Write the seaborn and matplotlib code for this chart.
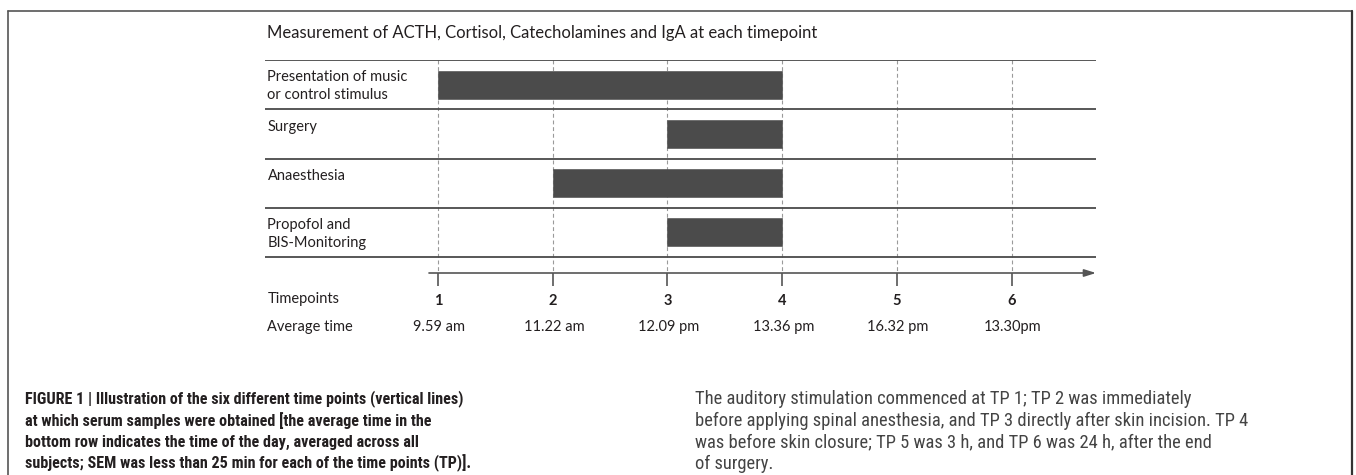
import matplotlib
matplotlib.use("Agg")
import matplotlib.pyplot as plt
from matplotlib.lines import Line2D
from matplotlib.transforms import blended_transform_factory
import seaborn as sns

# --- Data ---
TITLE = "Measurement of ACTH, Cortisol, Catecholamines and IgA at each timepoint"
ROW_LABELS = ["Presentation of music\nor control stimulus", "Surgery",
              "Anaesthesia", "Propofol and\nBIS-Monitoring"]
BAR_START = [1, 3, 2, 3]
BAR_END = [4, 4, 4, 4]
TIMEPOINTS = [1, 2, 3, 4, 5, 6]
AVG_TIMES = ["9.59 am", "11.22 am", "12.09 pm", "13.36 pm", "16.32 pm", "13.30pm"]

CAPTION_LEFT = [
    "FIGURE 1 | Illustration of the six different time points (vertical lines)",
    "at which serum samples were obtained [the average time in the",
    "bottom row indicates the time of the day, averaged across all",
    "subjects; SEM was less than 25 min for each of the time points (TP)].",
]
CAPTION_RIGHT = [
    "The auditory stimulation commenced at TP 1; TP 2 was immediately",
    "before applying spinal anesthesia, and TP 3 directly after skin incision. TP 4",
    "was before skin closure; TP 5 was 3 h, and TP 6 was 24 h, after the end",
    "of surgery.",
]

# --- Style ---
sns.set_theme(style="white")
plt.rcParams["font.family"] = ["Lato", "DejaVu Sans"]
CAP_FONT = ["Roboto Condensed", "Roboto", "DejaVu Sans"]

W, H = 1356, 475
fig = plt.figure(figsize=(W / 100, H / 100), dpi=100)

def fx(px):
    return px / W

def fy(py):
    return 1 - py / H

# frame round the figure (open at the bottom)
frame_col = "#555555"
fig.add_artist(Line2D([fx(8), fx(1352)], [fy(11), fy(11)], color=frame_col, lw=1.2))
fig.add_artist(Line2D([fx(8), fx(8)], [fy(11), 0], color=frame_col, lw=1.2))
fig.add_artist(Line2D([fx(1352), fx(1352)], [fy(11), 0], color="#333333", lw=1.6))

# chart area
left_px, right_px, top_px, bottom_px = 265, 1096, 60, 273
tp1_px, step_px = 438, 114.7
row_px = 49.25
ax = fig.add_axes([fx(left_px), fy(bottom_px),
                   (right_px - left_px) / W, (bottom_px - top_px) / H])
xmin = TIMEPOINTS[0] - (tp1_px - left_px) / step_px
xmax = TIMEPOINTS[0] + (right_px - tp1_px) / step_px
ybot = (bottom_px - top_px) / row_px
ax.set_xlim(xmin, xmax)
ax.set_ylim(ybot, 0)
sns.despine(ax=ax, left=True, bottom=True)
ax.set_yticks([])

n_rows = len(ROW_LABELS)
txt_col = "#231f20"

# dashed timepoint lines
ax.vlines(TIMEPOINTS, 0, ybot, colors="#9a9a9a", linestyles=(0, (3.5, 2.5)), lw=0.8, zorder=1)

# row separators
ax.hlines(range(n_rows + 1), xmin, xmax, colors="#4a4a4a", lw=1.3, zorder=2)

# bars
rows = [i + 0.5 for i in range(n_rows)]
widths = [e - s for s, e in zip(BAR_START, BAR_END)]
ax.barh(rows, widths, left=BAR_START, height=0.57, color="#4b4b4b",
        edgecolor="#5a5a5a", lw=0.5, zorder=3)

# row labels
lab_tr = blended_transform_factory(ax.transAxes, ax.transData)
for i, lab in enumerate(ROW_LABELS):
    ax.text(0.003, i + 0.21, lab, transform=lab_tr, ha="left", va="top",
            fontsize=10.5, color=txt_col, linespacing=1.35)

# time axis with arrow
ax.annotate("", xy=(xmax, ybot), xytext=(TIMEPOINTS[0] - 9 / step_px, ybot),
            xycoords="data", annotation_clip=False,
            arrowprops=dict(arrowstyle="-|>,head_length=0.7,head_width=0.22",
                            color="#555555", lw=1.2, shrinkA=0, shrinkB=0,
                            mutation_scale=10))
ax.set_xticks(TIMEPOINTS)
ax.set_xticklabels([str(t) for t in TIMEPOINTS], fontweight="bold", fontsize=10.5,
                   color=txt_col)
ax.tick_params(axis="x", direction="out", length=9.4, width=1.2, color="#555555",
               pad=5.8, bottom=True)

ax.text(0.003, (299 - top_px) / row_px, "Timepoints", transform=lab_tr,
        ha="left", va="center", fontsize=10.5, color=txt_col)
ax.text(0.003, (327 - top_px) / row_px, "Average time", transform=lab_tr,
        ha="left", va="center", fontsize=10.5, color=txt_col)
for tp, t in zip(TIMEPOINTS, AVG_TIMES):
    ax.text(tp + 0.01, (327 - top_px) / row_px, t, ha="center", va="center",
            fontsize=10.5, color=txt_col, clip_on=False)

fig.text(fx(267), fy(33), TITLE, ha="left", va="center", fontsize=12, color=txt_col)

# caption
line_y = [399, 420.5, 442, 463.5]
for y, line in zip(line_y, CAPTION_LEFT):
    fig.text(fx(25), fy(y), line, ha="left", va="center", fontsize=11.6,
             fontweight="bold", color="#231f20", family=CAP_FONT)
for y, line in zip(line_y, CAPTION_RIGHT):
    fig.text(fx(695), fy(y), line, ha="left", va="center", fontsize=13.3,
             color="#444444", family=CAP_FONT)

fig.savefig("out.png", dpi=100)
